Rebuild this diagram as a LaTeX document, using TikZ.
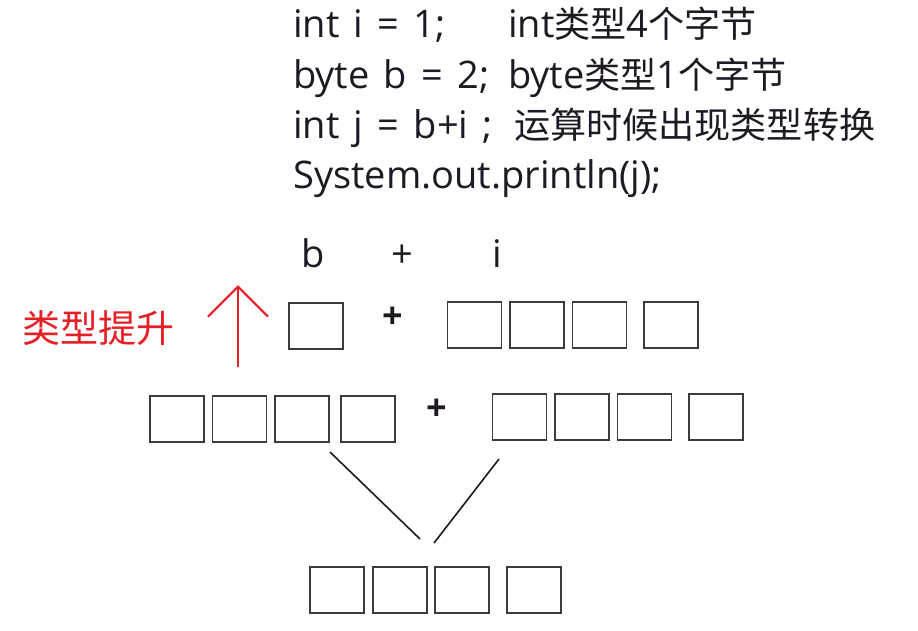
\documentclass[tikz,border=0pt]{standalone}
\usepackage{fontspec}
\setmainfont{Open Sans}[WordSpace=1.45]
\newfontfamily\zhfont{Noto Sans CJK SC}[Scale=0.95]
\usetikzlibrary{arrows.meta,positioning}
\definecolor{inkdark}{RGB}{30,25,35}
\definecolor{boxgray}{RGB}{60,60,60}
\definecolor{liftred}{RGB}{228,32,38}

\begin{document}
\begin{tikzpicture}[x=1pt,y=-1pt,
txt/.style={anchor=base west, inner sep=0pt, text=inkdark, font=\fontsize{38}{42}\selectfont},
byte/.style={draw=boxgray, line width=1.6pt, minimum width=54pt, minimum height=46pt, inner sep=0pt},
plus/.style={inner sep=0pt, text=inkdark, font=\fontsize{36}{40}\selectfont\bfseries},
link/.style={line width=1.6pt, draw=inkdark},
lift/.style={-{Straight Barb[length=30pt,width=60pt]}, line width=2.2pt, draw=liftred}
]
\useasboundingbox (0,0) rectangle (918,630);

\node[txt] (l1) at (293,37)  {int i = 1;};
\node[txt] (c1) at (508,37)  {int{\zhfont 类型}4{\zhfont 个字节}};
\node[txt] (l2) at (293,88)  {byte b = 2;};
\node[txt] (c2) at (508,88)  {byte{\zhfont 类型}1{\zhfont 个字节}};
\node[txt] (l3) at (293,138) {int j = b+i ;};
\node[txt] (c3) at (514,138) {\zhfont 运算时候出现类型转换};
\node[txt] (l4) at (293,188) {System.out.println(j);};

\node[txt, anchor=base] (lb) at (313,267) {b};
\node[txt, anchor=base] (lp) at (402,267) {+};
\node[txt, anchor=base] (li) at (497,267) {i};

\node[txt, text=liftred, font=\fontsize{40}{44}\selectfont] (lift) at (22,342) {\zhfont 类型提升};
\coordinate (rs) at (238,367);
\coordinate (re) at (238,285);
\draw[lift] (rs) -- (re);

\node[byte] (b1) at (316,326) {};
\node[plus] (p1) at (393,318) {+};
\foreach \x [count=\k] in {474.5,537,599.5,671}
  \node[byte] (i\k) at (\x,325) {};

\foreach \x [count=\k] in {177,239.5,302,368}
  \node[byte] (a\k) at (\x,419) {};
\node[plus] (p2) at (437,410) {+};
\foreach \x [count=\k] in {519.5,582,644.5,716}
  \node[byte] (c\k) at (\x,417) {};

\foreach \x [count=\k] in {337,400,462,534}
  \node[byte] (s\k) at (\x,590) {};

\coordinate (ls) at (330,452);
\coordinate (le) at (420,539);
\coordinate (rs2) at (499,459);
\coordinate (re2) at (434,543);
\draw[link] (ls) -- (le);
\draw[link] (rs2) -- (re2);

\end{tikzpicture}
\end{document}
